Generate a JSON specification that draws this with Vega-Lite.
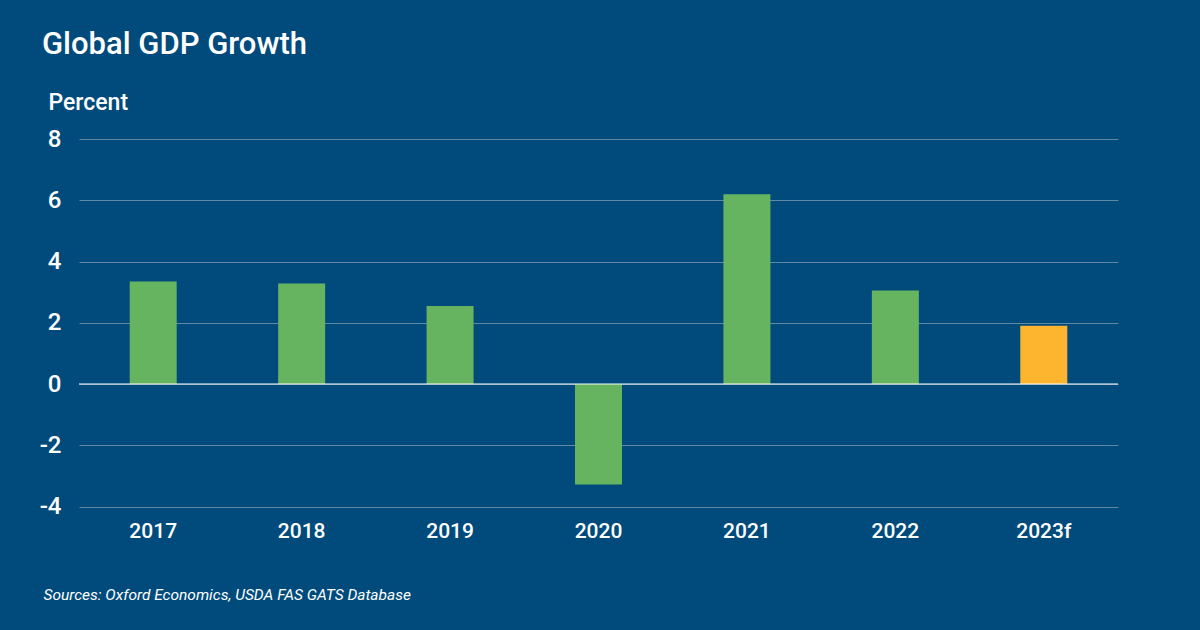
{
  "$schema": "https://vega.github.io/schema/vega-lite/v6.json",
  "width": 1039,
  "height": 367.5,
  "autosize": "none",
  "background": "#004b7c",
  "padding": {"left": 79, "top": 139, "right": 82, "bottom": 123},
  "data": {
    "values": [
      {"year": "2017", "growth": 3.35, "kind": "actual"},
      {"year": "2018", "growth": 3.28, "kind": "actual"},
      {"year": "2019", "growth": 2.55, "kind": "actual"},
      {"year": "2020", "growth": -3.28, "kind": "actual"},
      {"year": "2021", "growth": 6.2, "kind": "actual"},
      {"year": "2022", "growth": 3.05, "kind": "actual"},
      {"year": "2023f", "growth": 1.9, "kind": "forecast"}
    ]
  },
  "layer": [
    {
      "mark": {"type": "bar", "size": 47},
      "encoding": {
        "x": {
          "field": "year",
          "type": "ordinal",
          "title": "Sources: Oxford Economics, USDA FAS GATS Database",
          "axis": {
            "domain": false,
            "ticks": false,
            "labelAngle": 0,
            "labelColor": "white",
            "labelFont": "Roboto",
            "labelFontSize": 21,
            "labelFontWeight": 500,
            "labelPadding": 14,
            "grid": false,
            "titleColor": "white",
            "titleFont": "Roboto",
            "titleFontSize": 15.5,
            "titleFontStyle": "italic",
            "titleFontWeight": "normal",
            "titleAlign": "left",
            "titleBaseline": "alphabetic",
            "titleX": -36,
            "titleY": 93
          }
        },
        "y": {
          "field": "growth",
          "type": "quantitative",
          "title": "Percent",
          "scale": {"domain": [-4, 8]},
          "axis": {
            "values": [-4, -2, 0, 2, 4, 6, 8],
            "labelExpr": "'' + datum.value",
            "domain": false,
            "ticks": false,
            "labelColor": "white",
            "labelFont": "Roboto",
            "labelFontSize": 24,
            "labelFontWeight": 500,
            "labelPadding": 18,
            "gridColor": "#6089a6",
            "gridWidth": 1,
            "titleAngle": 0,
            "titleColor": "white",
            "titleFont": "Roboto",
            "titleFontSize": 23,
            "titleFontWeight": 500,
            "titleAlign": "left",
            "titleBaseline": "alphabetic",
            "titleX": -31,
            "titleY": -30
          }
        },
        "color": {
          "field": "kind",
          "type": "nominal",
          "legend": null,
          "scale": {"domain": ["actual", "forecast"], "range": ["#66b45f", "#fdb52f"]}
        }
      }
    },
    {
      "data": {"values": [{"zero": 0}]},
      "mark": {"type": "rule", "color": "white", "strokeWidth": 1},
      "encoding": {"y": {"field": "zero", "type": "quantitative"}}
    }
  ],
  "title": {
    "text": "Global GDP Growth",
    "anchor": "start",
    "frame": "group",
    "dx": -37,
    "offset": 30,
    "font": "Roboto",
    "fontSize": 31,
    "fontWeight": 500,
    "color": "white"
  },
  "config": {"view": {"stroke": null}}
}
